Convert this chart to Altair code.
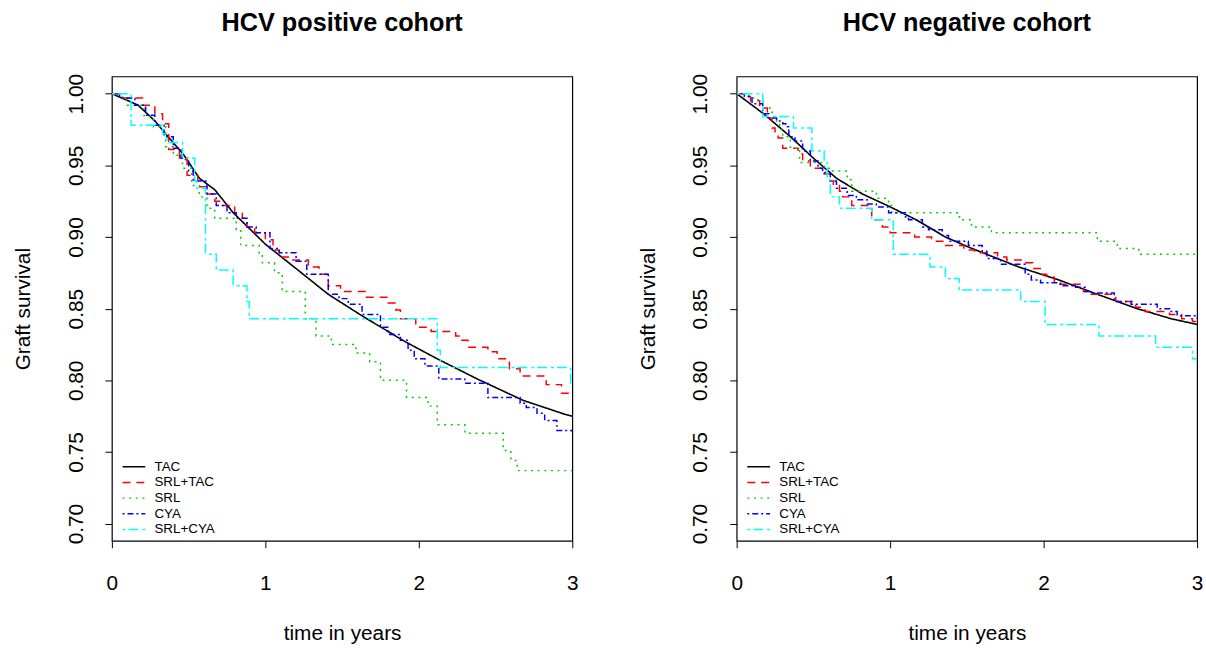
import altair as alt
import pandas as pd

SERIES = ["TAC", "SRL+TAC", "SRL", "CYA", "SRL+CYA"]
COLORS = ["#000000", "#FF0000", "#00CD00", "#0000FF", "#00FFFF"]
DASHES = [[1, 0], [8, 6], [2, 4.7], [2, 3, 6, 3], [3, 3, 10, 4]]
X_TICKS = [0, 1, 2, 3]
Y_TICKS = [0.70, 0.75, 0.80, 0.85, 0.90, 0.95, 1.00]
TITLES = ["HCV positive cohort", "HCV negative cohort"]

# ---- HCV positive cohort ----
POS_TAC_T = [0, 0.17, 0.28, 0.39, 0.47, 0.57, 0.67, 0.79, 1.0, 1.27, 1.41, 1.63, 1.91, 2.12, 2.38, 2.68, 2.96, 3.0]
POS_TAC_S = [1.0, 0.992, 0.981, 0.967, 0.957, 0.941, 0.933, 0.917, 0.895, 0.872, 0.860, 0.845, 0.827, 0.815, 0.801, 0.786, 0.776, 0.775]

POS_SRLTAC_T = [0, 0.05, 0.20, 0.28, 0.33, 0.37, 0.44, 0.49, 0.56, 0.62, 0.67, 0.72, 0.80, 0.85, 0.88, 0.93, 1.0, 1.05, 1.09, 1.15,
                1.28, 1.35, 1.41, 1.49, 1.65, 1.80, 1.85, 1.88, 1.98, 2.08, 2.24, 2.28, 2.32, 2.45, 2.51, 2.59, 2.66, 2.83, 2.93, 3.0]
POS_SRLTAC_S = [1.0, 0.997, 0.992, 0.986, 0.979, 0.961, 0.954, 0.943, 0.935, 0.930, 0.925, 0.922, 0.917, 0.913, 0.907, 0.903, 0.898, 0.891, 0.886, 0.884,
                0.879, 0.874, 0.866, 0.862, 0.858, 0.854, 0.849, 0.843, 0.837, 0.834, 0.831, 0.828, 0.823, 0.820, 0.815, 0.808, 0.803, 0.797, 0.791, 0.791]

POS_SRL_T = [0, 0.07, 0.10, 0.21, 0.27, 0.35, 0.40, 0.46, 0.52, 0.57, 0.62, 0.67, 0.81, 0.84, 0.96, 0.98, 1.06, 1.11, 1.26, 1.33,
             1.43, 1.59, 1.68, 1.75, 1.92, 2.06, 2.12, 2.30, 2.55, 2.60, 2.64, 3.0]
POS_SRL_S = [1.0, 0.996, 0.992, 0.984, 0.977, 0.963, 0.957, 0.948, 0.936, 0.928, 0.920, 0.913, 0.905, 0.894, 0.889, 0.882, 0.875, 0.862, 0.843, 0.831,
             0.825, 0.819, 0.813, 0.800, 0.788, 0.782, 0.769, 0.763, 0.751, 0.744, 0.737, 0.737]

POS_CYA_T = [0, 0.05, 0.15, 0.22, 0.28, 0.34, 0.40, 0.45, 0.50, 0.53, 0.62, 0.68, 0.75, 0.81, 0.88, 0.94, 1.03, 1.09, 1.20, 1.27,
             1.41, 1.48, 1.54, 1.63, 1.75, 1.80, 1.88, 1.93, 1.97, 2.04, 2.13, 2.30, 2.45, 2.66, 2.70, 2.77, 2.82, 2.90, 3.0]
POS_CYA_S = [1.0, 0.997, 0.992, 0.985, 0.978, 0.970, 0.962, 0.955, 0.946, 0.939, 0.930, 0.922, 0.917, 0.913, 0.907, 0.903, 0.892, 0.889, 0.883, 0.874,
             0.860, 0.857, 0.853, 0.846, 0.837, 0.832, 0.828, 0.821, 0.815, 0.810, 0.801, 0.798, 0.788, 0.784, 0.781, 0.777, 0.772, 0.765, 0.764]

POS_SRLCYA_T = [0, 0.125, 0.33, 0.36, 0.46, 0.54, 0.555, 0.61, 0.68, 0.79, 0.88, 0.895, 2.12, 2.14, 2.99, 3.0]
POS_SRLCYA_S = [1.0, 0.978, 0.972, 0.966, 0.955, 0.939, 0.934, 0.888, 0.877, 0.866, 0.855, 0.843, 0.821, 0.809, 0.798, 0.798]

# ---- HCV negative cohort ----
NEG_TAC_T = [0, 0.05, 0.175, 0.35, 0.5, 0.65, 0.82, 1.0, 1.17, 1.36, 1.51, 1.84, 2.1, 2.35, 2.61, 2.83, 3.0]
NEG_TAC_S = [1.0, 0.996, 0.986, 0.970, 0.955, 0.941, 0.930, 0.921, 0.912, 0.900, 0.893, 0.879, 0.870, 0.860, 0.850, 0.843, 0.839]

NEG_SRLTAC_T = [0, 0.05, 0.09, 0.15, 0.20, 0.23, 0.25, 0.27, 0.30, 0.40, 0.43, 0.48, 0.57, 0.61, 0.63, 0.67, 0.69, 0.75, 0.88, 0.95,
                1.0, 1.16, 1.27, 1.36, 1.48, 1.55, 1.70, 1.76, 1.87, 1.93, 1.99, 2.02, 2.07, 2.26, 2.30, 2.47, 2.60, 2.66, 2.82, 2.90,
                2.97, 3.0]
NEG_SRLTAC_S = [1.0, 0.998, 0.995, 0.990, 0.983, 0.976, 0.972, 0.969, 0.962, 0.958, 0.953, 0.948, 0.944, 0.939, 0.936, 0.932, 0.928, 0.922, 0.912, 0.907,
                0.903, 0.900, 0.897, 0.894, 0.891, 0.889, 0.886, 0.884, 0.882, 0.878, 0.874, 0.872, 0.867, 0.862, 0.860, 0.855, 0.851, 0.848, 0.846, 0.843,
                0.841, 0.841]

NEG_SRL_T = [0, 0.08, 0.14, 0.17, 0.22, 0.24, 0.26, 0.28, 0.30, 0.35, 0.41, 0.57, 0.61, 0.72, 0.75, 0.91, 0.99, 1.01, 1.45, 1.47,
             1.53, 1.66, 2.35, 2.48, 2.62, 3.0]
NEG_SRL_S = [1.0, 0.997, 0.995, 0.990, 0.987, 0.983, 0.980, 0.975, 0.970, 0.962, 0.952, 0.948, 0.946, 0.940, 0.932, 0.927, 0.922, 0.917, 0.914, 0.912,
             0.907, 0.903, 0.897, 0.892, 0.888, 0.888]

NEG_CYA_T = [0, 0.05, 0.1, 0.17, 0.21, 0.26, 0.30, 0.32, 0.34, 0.38, 0.43, 0.48, 0.53, 0.56, 0.61, 0.65, 0.72, 0.78, 0.85, 0.91,
             0.99, 1.1, 1.12, 1.21, 1.25, 1.34, 1.38, 1.51, 1.60, 1.63, 1.72, 1.88, 1.92, 1.98, 2.11, 2.20, 2.27, 2.31, 2.46, 2.57,
             2.74, 2.82, 2.87, 3.0]
NEG_CYA_S = [1.0, 0.998, 0.993, 0.986, 0.983, 0.981, 0.979, 0.977, 0.970, 0.967, 0.960, 0.953, 0.948, 0.945, 0.939, 0.934, 0.929, 0.926, 0.923, 0.921,
             0.917, 0.914, 0.912, 0.907, 0.905, 0.901, 0.897, 0.894, 0.890, 0.885, 0.881, 0.874, 0.870, 0.868, 0.866, 0.865, 0.862, 0.861, 0.855, 0.853,
             0.850, 0.848, 0.845, 0.843]

NEG_SRLCYA_T = [0, 0.17, 0.37, 0.49, 0.57, 0.59, 0.61, 0.67, 0.88, 1.02, 1.26, 1.36, 1.45, 1.85, 2.01, 2.36, 2.73, 2.97, 3.0]
NEG_SRLCYA_S = [1.0, 0.984, 0.976, 0.960, 0.952, 0.940, 0.928, 0.920, 0.912, 0.888, 0.879, 0.871, 0.863, 0.855, 0.839, 0.831, 0.823, 0.815, 0.815]

COHORTS = {
    TITLES[0]: [(POS_TAC_T, POS_TAC_S), (POS_SRLTAC_T, POS_SRLTAC_S), (POS_SRL_T, POS_SRL_S),
                (POS_CYA_T, POS_CYA_S), (POS_SRLCYA_T, POS_SRLCYA_S)],
    TITLES[1]: [(NEG_TAC_T, NEG_TAC_S), (NEG_SRLTAC_T, NEG_SRLTAC_S), (NEG_SRL_T, NEG_SRL_S),
                (NEG_CYA_T, NEG_CYA_S), (NEG_SRLCYA_T, NEG_SRLCYA_S)],
}

FONT = "Liberation Sans"


def make_df(title):
    rows = []
    for name, (ts, ss) in zip(SERIES, COHORTS[title]):
        assert len(ts) == len(ss), (title, name)
        for i, (t, s) in enumerate(zip(ts, ss)):
            rows.append({"series": name, "t": t, "s": s, "i": i})
    return pd.DataFrame(rows)


def panel(title):
    df = make_df(title)
    x = alt.X("t:Q", scale=alt.Scale(domain=[0, 3], nice=False, zero=False),
              axis=alt.Axis(values=X_TICKS, format="d", title="time in years", grid=False, domain=False,
                            labelFlush=False, labelOverlap=False,
                            tickSize=7, tickColor="black", tickWidth=1,
                            labelFont=FONT, labelFontSize=21, labelColor="black", labelPadding=25,
                            titleFont=FONT, titleFontSize=21, titleFontWeight="normal", titleColor="black",
                            titlePadding=30))
    y = alt.Y("s:Q", scale=alt.Scale(domain=[0.688, 1.012], nice=False, zero=False),
              axis=alt.Axis(values=Y_TICKS, format=".2f", title="Graft survival", grid=False, domain=False,
                            labelFlush=False, labelOverlap=False,
                            tickSize=7, tickColor="black", tickWidth=1,
                            labelFont=FONT, labelFontSize=21, labelColor="black", labelAngle=270,
                            labelPadding=19,
                            titleFont=FONT, titleFontSize=21, titleFontWeight="normal", titleColor="black",
                            titlePadding=32))
    legend = alt.Legend(title=None, orient="none", legendX=15.5, legendY=387.5,
                        symbolType="M-2,0H2", symbolSize=132, symbolStrokeWidth=1.5,
                        labelFont=FONT, labelFontSize=13.5, labelColor="black", labelOffset=14,
                        rowPadding=0.8, padding=0, fillColor="transparent", strokeColor="transparent")
    color = alt.Color("series:N", scale=alt.Scale(domain=SERIES, range=COLORS), legend=legend)
    dash = alt.StrokeDash("series:N", scale=alt.Scale(domain=SERIES, range=DASHES), legend=legend)
    base = alt.Chart(df).encode(x=x, y=y, color=color, strokeDash=dash, order="i:Q")
    tac = base.transform_filter(alt.datum.series == "TAC").mark_line(strokeWidth=1.6, clip=True)
    steps = base.transform_filter(alt.datum.series != "TAC").mark_line(
        interpolate="step-after", strokeWidth=1.5, clip=True)
    return alt.layer(tac, steps).properties(
        width=465, height=469,
        title=alt.TitleParams(title, font=FONT, fontSize=25.5, fontWeight="bold", color="black",
                              anchor="middle", frame="group", baseline="alphabetic", offset=17),
    )


chart = alt.hconcat(panel(TITLES[0]), panel(TITLES[1]), spacing=58).resolve_scale(
    color="independent", strokeDash="independent"
).resolve_legend(color="independent", strokeDash="independent").configure(
    background="white", padding={"left": 12, "top": 7, "right": 2, "bottom": 2}
).configure_view(
    stroke="black", strokeWidth=1.2
)

chart.save("out.html", embed_options={"renderer": "svg", "actions": False})
